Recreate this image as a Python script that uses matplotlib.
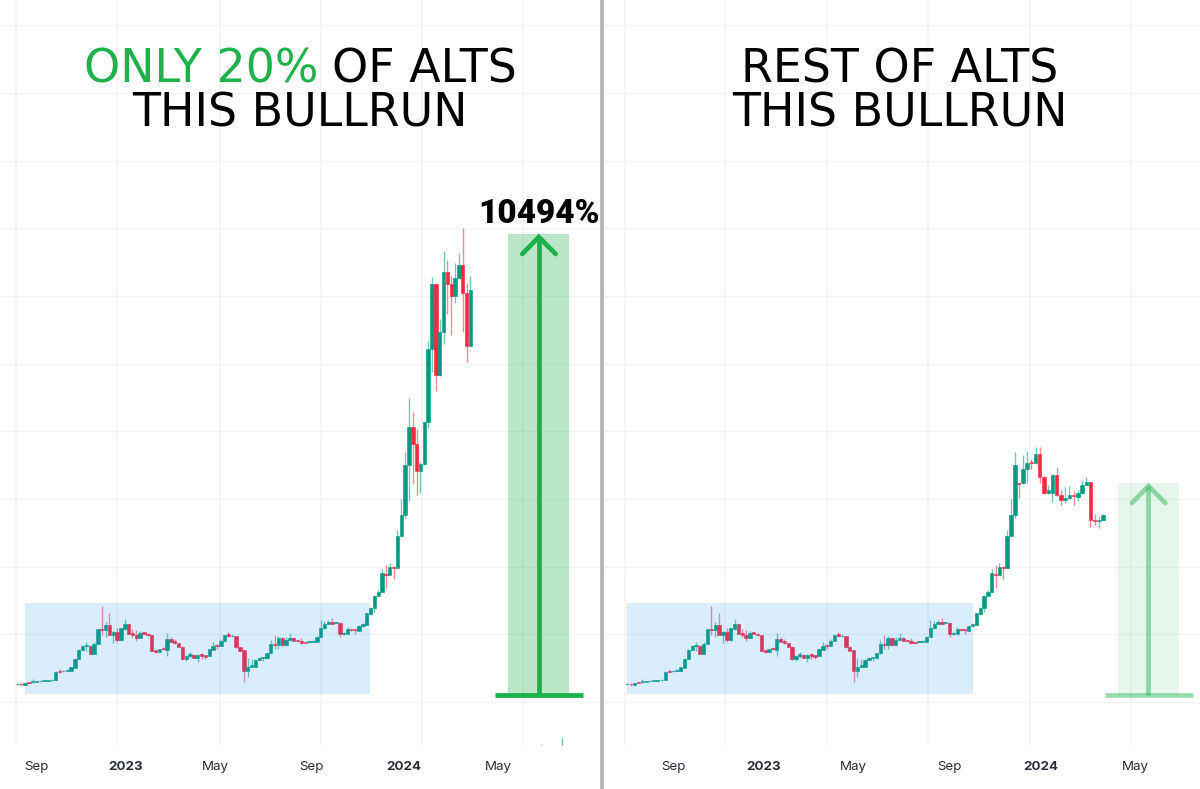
import numpy as np
import matplotlib
matplotlib.use('Agg')
import matplotlib.pyplot as plt
from matplotlib.lines import Line2D
from matplotlib.patches import Rectangle

shared_open = [53, 55, 52, 59, 59, 61, 62, 63, 64, 65, 66, 93, 92, 93, 94, 103, 130, 156, 168, 169,
               144, 175, 220, 216, 230, 202, 211, 186, 219, 233, 206, 201, 192, 209, 205, 200, 156, 150, 161, 157,
               188, 182, 177, 166, 128, 139, 141, 133, 143, 140, 139, 157, 171, 168, 183, 203, 197, 197, 164, 155,
               94, 105, 106, 127, 131, 131, 146, 173, 170, 191, 170, 186, 192, 185, 182, 180, 179, 181, 181, 196,
               222, 235, 241, 237, 238, 203, 205, 219, 218, 213, 228, 232, 264, 282, 319, 331, 384, 381, 406, 403,
               498, 561]
shared_high = [56, 56, 58, 60, 69, 64, 65, 66, 67, 68, 92, 98, 96, 100, 106, 131, 158, 171, 179, 171,
               181, 220, 288, 241, 268, 213, 221, 223, 249, 235, 218, 216, 214, 211, 206, 201, 157, 160, 164, 206,
               196, 188, 178, 167, 141, 149, 143, 143, 148, 141, 160, 181, 173, 190, 202, 209, 204, 199, 165, 156,
               131, 129, 129, 134, 136, 148, 186, 200, 197, 196, 194, 206, 194, 187, 193, 181, 183, 186, 198, 246,
               243, 245, 253, 241, 240, 210, 224, 220, 219, 230, 238, 268, 286, 322, 335, 399, 411, 418, 408, 516,
               608, 749]
shared_low = [52, 49, 50, 56, 58, 60, 61, 62, 63, 64, 65, 86, 91, 92, 93, 102, 128, 155, 154, 143,
              143, 174, 201, 194, 200, 178, 180, 184, 217, 203, 196, 184, 191, 204, 198, 152, 148, 149, 157, 139,
              180, 174, 164, 126, 122, 132, 132, 120, 130, 128, 138, 156, 160, 167, 182, 196, 196, 162, 152, 61,
              76, 104, 105, 126, 123, 128, 145, 158, 158, 168, 168, 185, 182, 180, 175, 177, 178, 180, 180, 195,
              220, 233, 233, 236, 196, 200, 204, 214, 204, 212, 226, 230, 262, 270, 317, 330, 341, 380, 368, 461,
              496, 551]
shared_close = [55, 53, 57, 57, 62, 63, 64, 65, 66, 67, 91, 89, 94, 96, 104, 130, 156, 168, 171, 144,
                175, 218, 216, 230, 202, 211, 186, 221, 233, 205, 202, 192, 208, 205, 200, 154, 150, 159, 158, 188,
                181, 176, 165, 128, 139, 143, 133, 141, 139, 136, 158, 169, 168, 184, 200, 198, 199, 164, 153, 94,
                104, 111, 127, 131, 134, 146, 173, 170, 191, 170, 186, 191, 184, 182, 177, 178, 182, 184, 196, 222,
                235, 241, 235, 239, 204, 208, 218, 215, 215, 228, 235, 266, 282, 319, 331, 386, 381, 406, 403, 498,
                561, 710]

left_open = [710, 826, 773, 694, 713, 840, 1058, 1254, 980, 1110, 1290, 1253, 1218, 1272, 1312, 1226, 1069]
left_high = [911, 869, 818, 720, 842, 1084, 1276, 1256, 1148, 1354, 1326, 1278, 1316, 1346, 1421, 1256, 1278]
left_low = [604, 654, 621, 628, 711, 823, 991, 934, 978, 1074, 1164, 1100, 1198, 1270, 1111, 1021, 1064]
left_close = [826, 773, 694, 713, 840, 1058, 1254, 980, 1110, 1290, 1253, 1218, 1272, 1312, 1226, 1069, 1236]

right_open = [656, 656, 700, 720, 716, 743, 676, 626, 626, 681, 621, 605, 612, 621, 616, 626, 652, 659, 546, 543, 546]
right_high = [656, 741, 754, 728, 764, 766, 678, 651, 683, 706, 636, 646, 648, 634, 636, 666, 674, 661, 564, 558, 563]
right_low = [611, 654, 656, 698, 714, 656, 624, 625, 600, 619, 591, 598, 610, 592, 604, 624, 650, 526, 531, 523, 545]
right_close = [654, 700, 718, 716, 743, 676, 626, 636, 681, 621, 606, 611, 621, 618, 626, 652, 659, 546, 544, 546, 561]

# the stretch before the move that the highlight box covers, in candle numbers
left_box = (2, 91.8)
right_box = (0, 90.1)
box_price = (24, 297)

gain_base = 21
left_gain_top = 1404
right_gain_top = 657

tick_labels = ['Sep', '2023', 'May', 'Sep', '2024', 'May']
left_tick_pos = [4.9, 28.3, 51.7, 76.7, 100.7, 125.2]
right_tick_pos = [12, 35.6, 59, 84, 107.7, 132.5]
left_grid_x = [-0.3, 26, 52.7, 79, 105.4, 131.7]
right_grid_x = [-0.5, 25.5, 52, 78.4, 105, 131.3]
price_lines = [203 * k for k in range(11)]

UP = '#089981'
DOWN = '#f7273f'
ARROW = '#1cb04a'
BOX = '#2196f3'
GRID = '#f2f3f4'

W, H = 1200, 789
PX_STEP = 3.84


def draw_candles(ax, xs, opens, highs, lows, closes, width=0.88):
    opens, closes = np.array(opens), np.array(closes)
    colors = [UP if c >= o else DOWN for o, c in zip(opens, closes)]
    ax.vlines(xs, lows, highs, colors=colors, linewidth=1, alpha=0.55, zorder=3)
    ax.bar(xs, closes - opens, bottom=opens, width=width, color=colors,
           edgecolor=colors, linewidth=0.4, zorder=4)


def draw_gain(ax, top, alpha_box, alpha_line):
    # box + arrow + base line, all centred on the same candle number
    ax.add_patch(Rectangle((127.9, gain_base), 15.9, top - gain_base, color=ARROW,
                           alpha=alpha_box, linewidth=0, zorder=6))
    tip = top - 9
    ax.plot([135.8, 135.8], [gain_base, tip], color=ARROW, alpha=alpha_line, linewidth=3.4, zorder=7,
            solid_capstyle='butt')
    ax.plot([131.5, 135.8, 140.2], [tip - 51, tip, tip - 51], color=ARROW, alpha=alpha_line,
            linewidth=3.4, zorder=7, solid_capstyle='round', solid_joinstyle='miter')
    ax.plot([124.4, 147.4], [gain_base, gain_base], color=ARROW, alpha=alpha_line, linewidth=3.4,
            zorder=7, solid_capstyle='butt')


def setup_panel(ax, left_px, right_px, x0_px, grid_x, tick_pos, box):
    ax.set_xlim((left_px - x0_px) / PX_STEP, (right_px - x0_px) / PX_STEP)
    ax.set_ylim(-261, 2106)
    ax.axis('off')
    for p in price_lines:
        ax.axhline(p, color=GRID, linewidth=1, zorder=1)
    ax.vlines(grid_x, -129, 2106, colors=GRID, linewidth=1.2, zorder=1)
    for pos, label in zip(tick_pos, tick_labels):
        bold = label.startswith('20')
        ax.text(pos, -194, label, ha='center', va='center', fontsize=9.6, family='Inter',
                fontweight='bold' if bold else 'normal', color='#2a2e39')
    ax.add_patch(Rectangle((box[0], box_price[0]), box[1] - box[0], box_price[1] - box_price[0],
                           color=BOX, alpha=0.17, linewidth=0, zorder=5))


fig = plt.figure(figsize=(W / 100, H / 100), dpi=100)
ax_l = fig.add_axes([0, 0, 600 / W, 1])
ax_r = fig.add_axes([603 / W, 0, 597 / W, 1])

setup_panel(ax_l, 0, 600, 17.3, left_grid_x, left_tick_pos, left_box)
setup_panel(ax_r, 603, 1200, 627, right_grid_x, right_tick_pos, right_box)

n = len(shared_open)
xs_shared = np.arange(n)
draw_candles(ax_l, xs_shared, shared_open, shared_high, shared_low, shared_close)
draw_candles(ax_l, n + np.arange(len(left_open)), left_open, left_high, left_low, left_close)
draw_candles(ax_r, xs_shared, shared_open, shared_high, shared_low, shared_close)
# the right tail sits a little wider apart in the screenshot
draw_candles(ax_r, n + np.arange(len(right_open)) * 1.1, right_open, right_high, right_low, right_close)

draw_gain(ax_l, left_gain_top, 0.3, 1)
draw_gain(ax_r, right_gain_top, 0.1, 0.45)

# two stray candles peeking in at the bottom of the left chart
ax_l.vlines([141.9], -129, -108, colors=UP, linewidth=1, alpha=0.6, zorder=3)
ax_l.vlines([136.4], -129, -126, colors=DOWN, linewidth=1, alpha=0.5, zorder=3)

ax_l.text(135.8, 1464, '10494%', ha='center', va='center', fontsize=24,
          family='Roboto', fontweight='black', color='black', zorder=8)

fig.add_artist(Line2D([601.5 / W, 601.5 / W], [0, 1], color='#b2b2b2', linewidth=2.6))

title_kw = dict(family='DejaVu Sans', fontsize=33, va='center', color='black')


def title(x_px, y_px, text, ha='center', **kw):
    opts = {**title_kw, **kw}
    fig.text(x_px / W, 1 - y_px / H, text, ha=ha, **opts)


title(84, 70, 'ONLY 20%', ha='left', color='#1fb14b')
title(517, 70, 'OF ALTS', ha='right')
title(300, 114, 'THIS BULLRUN')
title(900, 70, 'REST OF ALTS')
title(900, 114, 'THIS BULLRUN')

fig.savefig('out.png', dpi=100, facecolor='white')
